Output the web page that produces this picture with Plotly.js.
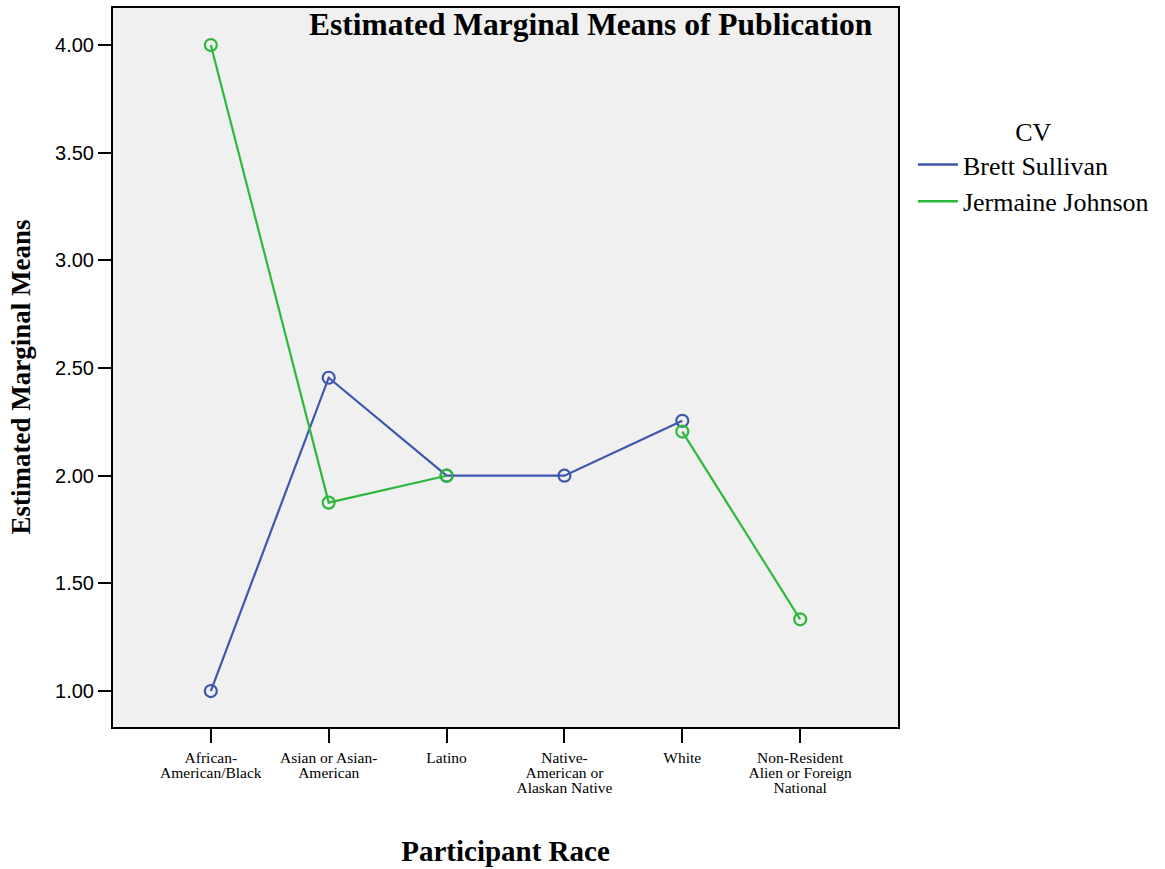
<!DOCTYPE html>
<html>
<head>
<meta charset="utf-8">
<script src="https://cdn.plot.ly/plotly-3.0.1.min.js"></script>
<style>html,body{margin:0;padding:0;background:#fff;}#chart{width:1165px;height:869px;}</style>
</head>
<body>
<div id="chart"></div>
<script>
const categories = [["African-", "American/Black"], ["Asian or Asian-", "American"], ["Latino"], ["Native-", "American or", "Alaskan Native"], ["White"], ["Non-Resident", "Alien or Foreign", "National"]];
const categoryIndex = [0, 1, 2, 3, 4, 5];
const seriesNames = ["Brett Sullivan", "Jermaine Johnson"];
const brettSullivan = [1.00, 2.455, 2.00, 2.00, 2.255, null];
const jermaineJohnson = [4.00, 1.875, 2.00, null, 2.205, 1.333];
const yTicks = [1.0, 1.5, 2.0, 2.5, 3.0, 3.5, 4.0];

const serif = "Liberation Serif, Times New Roman, serif";
const sans = "Liberation Sans, Arial, sans-serif";
const colors = ["#3e56ae", "#2db83d"];
const seriesValues = [brettSullivan, jermaineJohnson];

const tickText = categories.map(lines => lines.map(l => '<span style="font-size:15.5px">' + l + '</span>').join("<br>"));

const traces = [];
seriesValues.forEach((vals, i) => {
  traces.push({
    x: categoryIndex, y: vals, name: seriesNames[i],
    type: "scatter", mode: "lines+markers", connectgaps: false, showlegend: false,
    line: {color: colors[i], width: 2.2},
    marker: {symbol: "circle-open", size: 12, color: colors[i], line: {width: 2.2, color: colors[i]}}
  });
});
seriesValues.forEach((vals, i) => {
  traces.push({
    x: [null], y: [null], name: seriesNames[i],
    type: "scatter", mode: "lines", showlegend: true,
    line: {color: colors[i], width: 2.5}
  });
});

const layout = {
  width: 1165, height: 869,
  paper_bgcolor: "#ffffff",
  plot_bgcolor: "#f0f0f0",
  margin: {l: 113, r: 267, t: 8, b: 142},
  showlegend: true,
  title: {
    text: "<b>Estimated Marginal Means of Publication</b>",
    font: {family: serif, size: 31.5, color: "#000"},
    x: 0.507, xref: "container", xanchor: "center",
    y: 0.972, yref: "container", yanchor: "middle"
  },
  xaxis: {
    range: [-0.83, 5.83],
    tickmode: "array", tickvals: categoryIndex, ticktext: tickText,
    ticks: "outside", ticklen: 14, tickwidth: 2, tickcolor: "#000",
    ticklabelstandoff: 6,
    tickfont: {family: serif, size: 11.5, color: "#000"},
    showline: true, linecolor: "#000", linewidth: 2, mirror: true,
    showgrid: false, zeroline: false,
    title: {text: "<b>Participant Race</b>", font: {family: serif, size: 29, color: "#000"}, standoff: 46}
  },
  yaxis: {
    range: [0.833, 4.172],
    tickmode: "array", tickvals: yTicks, tickformat: ".2f",
    ticks: "outside", ticklen: 13, tickwidth: 2, tickcolor: "#000",
    tickfont: {family: sans, size: 20, color: "#000"},
    showline: true, linecolor: "#000", linewidth: 2, mirror: true,
    showgrid: false, zeroline: false
  },
  annotations: [{
    text: "<b>Estimated Marginal Means</b>",
    font: {family: serif, size: 27, color: "#000"},
    textangle: -90, showarrow: false,
    xref: "paper", yref: "paper", x: -0.116, y: 0.4875,
    xanchor: "center", yanchor: "middle"
  }],
  legend: {
    x: 1.019, xanchor: "left", y: 0.862, yanchor: "top",
    bgcolor: "rgba(0,0,0,0)",
    font: {family: serif, size: 26, color: "#000"},
    title: {text: "CV", font: {family: serif, size: 26, color: "#000"}, side: "top center"},
    itemwidth: 40, tracegroupgap: 6
  }
};

Plotly.newPlot("chart", traces, layout, {displayModeBar: false, responsive: false});
</script>
</body>
</html>
